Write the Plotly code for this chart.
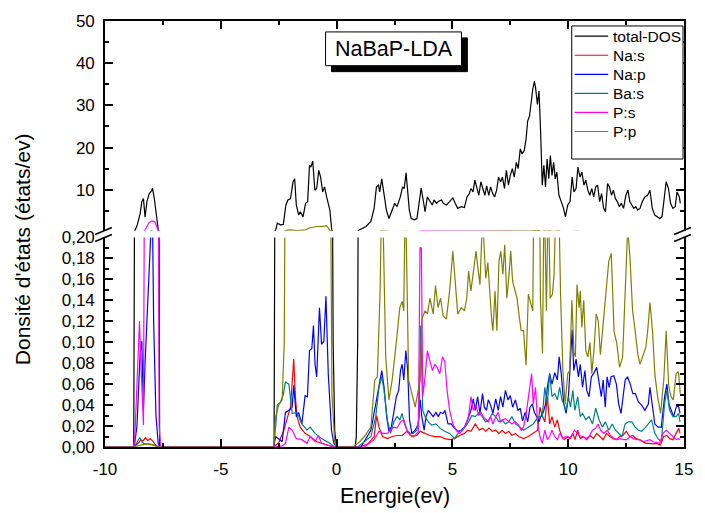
import plotly.graph_objects as go

# ---------------- data ----------------
E_total = [-10.0, -8.76, -8.70, -8.60, -8.48, -8.41, -8.34, -8.27, -8.19, -8.09, -7.99, -7.95, -7.87, -7.78, -7.70, -7.64,
           -2.70, -2.63, -2.56, -2.42, -2.30, -2.19, -2.10, -1.99, -1.88, -1.81, -1.74, -1.64, -1.57, -1.45, -1.34, -1.25,
           -1.17, -1.11, -1.03, -0.94, -0.86, -0.77, -0.69, -0.60, -0.52, -0.43, -0.35, -0.29, -0.21, -0.15, -0.08, 0.0,
           0.80, 0.85, 0.91, 0.96, 1.27, 1.48, 1.62, 1.72, 1.81, 1.86, 1.95, 2.05, 2.15, 2.26, 2.37, 2.51, 2.61, 2.75,
           2.85, 2.92, 3.00, 3.08, 3.14, 3.22, 3.36, 3.47, 3.56, 3.65, 3.75, 3.82, 3.92, 4.03, 4.13, 4.21, 4.31, 4.41,
           4.53, 4.61, 4.74, 4.88, 5.02, 5.12, 5.23, 5.38, 5.52, 5.63, 5.73, 5.80, 5.89, 5.97, 6.06, 6.14, 6.23, 6.31,
           6.40, 6.48, 6.57, 6.65, 6.74, 6.82, 6.91, 6.99, 7.08, 7.16, 7.25, 7.33, 7.42, 7.50, 7.59, 7.67, 7.76, 7.84,
           7.93, 8.01, 8.10, 8.18, 8.25, 8.33, 8.40, 8.47, 8.54, 8.59, 8.67, 8.74, 8.81, 8.88, 8.95, 9.02, 9.09, 9.16,
           9.23, 9.30, 9.37, 9.44, 9.51, 9.60, 9.70, 9.80, 9.88, 9.98, 10.08, 10.17, 10.25, 10.34, 10.42, 10.51, 10.59,
           10.68, 10.76, 10.85, 10.93, 11.02, 11.10, 11.19, 11.27, 11.36, 11.44, 11.53, 11.61, 11.70, 11.78, 11.87,
           11.95, 12.04, 12.12, 12.21, 12.29, 12.39, 12.49, 12.58, 12.66, 12.75, 12.83, 12.92, 13.00, 13.10, 13.20,
           13.31, 13.43, 13.53, 13.63, 13.74, 13.85, 13.95, 14.05, 14.14, 14.23, 14.33, 14.42, 14.52, 14.62, 14.70,
           14.80, 14.84]
dos_total = [0, 0, 0.4, 1.8, 4.4, 7.2, 7.9, 3.5, 7.2, 9.1, 9.7, 10.4, 7.9, 3.2, 0.5, 0,
             0, 0.5, 2.1, 1.7, 1.8, 6.4, 7.6, 7.9, 11.9, 12.6, 6.4, 4.0, 4.8, 3.6, 6.8, 7.2,
             15.8, 15.4, 16.8, 9.9, 10.3, 14.6, 13.0, 9.5, 10.7, 8.3, 6.0, 5.2, 0.4, 0.1, 0.015, 0,
             0, 0.01, 0.1, 0.4, 1.3, 2.5, 5.6, 10.7, 11.1, 9.5, 12.6, 9.1, 5.2, 3.2, 4.8, 6.8, 6.0, 8.3,
             10.7, 10.3, 14.0, 9.5, 5.2, 3.2, 2.9, 3.2, 7.2, 10.4, 7.2, 4.8, 8.3, 7.2, 6.4, 7.6, 6.8, 7.3,
             7.6, 6.8, 6.4, 7.2, 8.1, 6.8, 5.6, 6.0, 5.8, 8.3, 9.1, 10.3, 9.5, 12.3, 10.7, 8.7, 11.9, 10.3,
             8.7, 10.9, 8.7, 10.7, 9.1, 8.3, 9.9, 13.0, 11.9, 13.0, 10.3, 14.6, 11.1, 13.4, 15.0, 13.0, 16.5, 15.0,
             19.7, 18.5, 19.3, 22.0, 26.3, 27.5, 31.4, 33.8, 35.7, 34.2, 30.2, 33.4, 23.6, 11.1, 15.8, 10.7, 17.3, 12.6,
             18.1, 13.4, 16.5, 12.6, 14.2, 8.7, 7.2, 5.6, 3.6, 6.4, 7.2, 13.0, 9.5, 10.3, 15.4, 13.0, 14.2,
             11.1, 12.3, 9.9, 8.7, 10.3, 8.3, 10.7, 11.1, 7.2, 9.1, 5.6, 4.8, 11.5, 10.7, 8.7,
             9.9, 7.9, 7.2, 6.0, 6.8, 5.6, 8.7, 9.9, 7.2, 6.4, 5.6, 6.0, 5.2, 5.6, 7.2,
             8.3, 8.7, 9.9, 5.6, 4.0, 3.6, 3.2, 3.6, 7.9, 11.9, 10.3, 6.8, 5.6, 6.0, 9.5,
             8.3, 6.8]

E_nas = [-10.0, -8.75, -8.55, -8.45, -8.35, -8.25, -8.15, -8.05, -7.95, -7.85, -7.70,
         -2.72, -2.50, -2.28, -2.10, -1.99, -1.85, -1.78, -1.71, -1.57, -1.36, -1.14, -0.86, -0.57, -0.29, -0.10,
         1.00, 1.35, 1.62, 1.73, 1.83, 1.98, 2.19, 2.40, 2.61, 2.83, 3.04, 3.25, 3.46, 3.61, 3.82, 4.03, 4.24,
         4.46, 4.67, 4.88, 5.09, 5.31, 5.52, 5.66, 5.80, 5.99, 6.16, 6.30, 6.44, 6.58, 6.72, 6.87, 7.01, 7.15,
         7.29, 7.43, 7.57, 7.72, 7.86, 8.07, 8.28, 8.49, 8.68, 8.78, 8.88, 8.99, 9.10, 9.20, 9.30, 9.42, 9.53,
         9.63, 9.73, 9.84, 9.98, 10.10, 10.20, 10.29, 10.41, 10.52, 10.66, 10.80, 10.95, 11.09, 11.23, 11.37,
         11.51, 11.66, 11.80, 11.94, 12.08, 12.22, 12.36, 12.51, 12.65, 12.79, 12.93, 13.07, 13.21, 13.36,
         13.50, 13.64, 13.81, 13.98, 14.12, 14.26, 14.38, 14.52, 14.66, 14.77, 14.83]
dos_nas = [0, 0, 0.004, 0.007, 0.006, 0.009, 0.006, 0.008, 0.006, 0.003, 0,
           0, 0.004, 0.016, 0.030, 0.038, 0.084, 0.048, 0.029, 0.019, 0.013, 0.010, 0.005, 0.003, 0.001, 0,
           0, 0.003, 0.010, 0.030, 0.019, 0.010, 0.008, 0.010, 0.011, 0.011, 0.015, 0.010, 0.011, 0.015, 0.013, 0.011, 0.010,
           0.010, 0.008, 0.007, 0.008, 0.011, 0.013, 0.016, 0.015, 0.022, 0.016, 0.018, 0.015, 0.018, 0.015, 0.016, 0.013, 0.016,
           0.013, 0.015, 0.011, 0.013, 0.010, 0.008, 0.010, 0.013, 0.016, 0.038, 0.030, 0.024, 0.048, 0.022, 0.029, 0.019, 0.026,
           0.016, 0.010, 0.007, 0.010, 0.008, 0.013, 0.007, 0.016, 0.008, 0.010, 0.007, 0.011, 0.008, 0.013, 0.010,
           0.007, 0.013, 0.010, 0.008, 0.007, 0.010, 0.011, 0.015, 0.010, 0.011, 0.008, 0.007, 0.005, 0.0035,
           0.0035, 0.003, 0.0035, 0.002, 0.010, 0.011, 0.008, 0.007, 0.013, 0.018, 0.013]

E_nap = [-10.0, -8.80, -8.72, -8.62, -8.52, -8.48, -8.41, -8.34, -8.27, -8.15, -8.05, -8.00, -7.95, -7.90, -7.80, -7.70, -7.62,
         -2.72, -2.63, -2.49, -2.35, -2.21, -2.06, -1.92, -1.85, -1.74, -1.64, -1.50, -1.36, -1.26, -1.17, -1.07, -1.00,
         -0.93, -0.86, -0.74, -0.65, -0.55, -0.46, -0.36, -0.22, -0.12, 0.0,
         1.05, 1.48, 1.69, 1.83, 1.95, 2.05, 2.16, 2.26, 2.36, 2.47, 2.58, 2.68, 2.76, 2.83, 2.90, 2.99, 3.07, 3.15,
         3.25, 3.39, 3.53, 3.61, 3.68, 3.78, 3.86, 3.96, 4.06, 4.17, 4.29, 4.39, 4.48, 4.60, 4.68, 4.81, 4.95, 5.09,
         5.24, 5.38, 5.52, 5.66, 5.80, 5.90, 5.99, 6.09, 6.19, 6.30, 6.38, 6.47, 6.55, 6.65, 6.75, 6.87, 6.98, 7.08,
         7.18, 7.29, 7.40, 7.50, 7.60, 7.72, 7.83, 7.93, 8.03, 8.14, 8.25, 8.35, 8.45, 8.54, 8.64, 8.74, 8.82, 8.92,
         9.02, 9.10, 9.20, 9.30, 9.42, 9.53, 9.61, 9.70, 9.81, 9.91, 10.01, 10.10, 10.17, 10.24, 10.34, 10.44, 10.52,
         10.62, 10.72, 10.80, 10.90, 11.00, 11.12, 11.23, 11.33, 11.43, 11.51, 11.60, 11.68, 11.77, 11.85, 11.97,
         12.08, 12.18, 12.28, 12.36, 12.46, 12.56, 12.68, 12.79, 12.90, 13.03, 13.17, 13.31, 13.46, 13.53, 13.64,
         13.74, 13.88, 14.02, 14.16, 14.26, 14.35, 14.45, 14.55, 14.66, 14.75, 14.83]
dos_nap = [0, 0, 0.003, 0.02, 0.07, 0.090, 0.101, 0.035, 0.080, 0.142, 0.180, 0.215, 0.22, 0.12, 0.03, 0.003, 0,
           0, 0.010, 0.007, 0.005, 0.033, 0.035, 0.038, 0.059, 0.029, 0.033, 0.022, 0.049, 0.048, 0.092, 0.094, 0.116,
           0.079, 0.067, 0.133, 0.098, 0.101, 0.144, 0.070, 0.016, 0.0035, 0,
           0, 0.016, 0.041, 0.060, 0.073, 0.057, 0.029, 0.015, 0.019, 0.033, 0.048, 0.054, 0.073, 0.079, 0.064, 0.092, 0.073, 0.026,
           0.013, 0.016, 0.022, 0.045, 0.029, 0.016, 0.029, 0.035, 0.032, 0.029, 0.033, 0.029, 0.033, 0.032, 0.035, 0.022, 0.022, 0.018,
           0.015, 0.016, 0.019, 0.026, 0.035, 0.046, 0.035, 0.048, 0.032, 0.051, 0.038, 0.035, 0.045, 0.040, 0.032, 0.046, 0.035, 0.048,
           0.038, 0.054, 0.045, 0.049, 0.038, 0.045, 0.035, 0.037, 0.025, 0.033, 0.024, 0.038, 0.041, 0.033, 0.029, 0.024, 0.029, 0.033,
           0.041, 0.057, 0.070, 0.060, 0.071, 0.064, 0.086, 0.070, 0.041, 0.032, 0.048, 0.079, 0.112, 0.073, 0.084, 0.067, 0.079,
           0.057, 0.073, 0.054, 0.048, 0.067, 0.071, 0.076, 0.060, 0.048, 0.064, 0.038, 0.067, 0.057, 0.067, 0.068,
           0.060, 0.041, 0.032, 0.048, 0.064, 0.067, 0.060, 0.051, 0.051, 0.043, 0.040, 0.035, 0.041, 0.057, 0.041,
           0.022, 0.019, 0.019, 0.048, 0.060, 0.041, 0.035, 0.029, 0.038, 0.040, 0.032]

E_bas = [-10.0, -8.76, -8.65, -8.50, -8.40, -8.30, -8.10, -7.90, -7.70,
         -2.72, -2.63, -2.56, -2.42, -2.30, -2.21, -2.06, -1.92, -1.71, -1.50, -1.28, -1.14, -0.93, -0.65, -0.29, -0.10,
         0.91, 1.48, 1.69, 1.83, 1.95, 2.05, 2.19, 2.33, 2.47, 2.61, 2.73, 2.83, 2.93, 3.04, 3.18, 3.32, 3.46, 3.56,
         3.63, 3.72, 3.82, 3.96, 4.10, 4.29, 4.46, 4.67, 4.88, 5.09, 5.31, 5.52, 5.70, 5.84, 5.99, 6.16, 6.30, 6.44,
         6.58, 6.72, 6.87, 7.01, 7.15, 7.29, 7.43, 7.57, 7.72, 7.86, 8.07, 8.28, 8.49, 8.71, 8.88, 8.99, 9.10, 9.20,
         9.30, 9.42, 9.53, 9.63, 9.73, 9.81, 9.91, 10.01, 10.10, 10.20, 10.29, 10.41, 10.52, 10.62, 10.76, 10.90,
         11.05, 11.19, 11.33, 11.47, 11.61, 11.75, 11.90, 12.04, 12.18, 12.32, 12.46, 12.60, 12.75, 12.89, 13.03,
         13.17, 13.31, 13.46, 13.60, 13.74, 13.88, 14.02, 14.16, 14.26, 14.38, 14.52, 14.66, 14.77, 14.83]
dos_bas = [0, 0, 0.003, 0.009, 0.005, 0.003, 0.003, 0.002, 0,
           0, 0.02, 0.040, 0.043, 0.050, 0.062, 0.060, 0.032, 0.033, 0.022, 0.016, 0.019, 0.013, 0.008, 0.0035, 0,
           0, 0.010, 0.029, 0.057, 0.067, 0.054, 0.026, 0.013, 0.024, 0.029, 0.026, 0.032, 0.022, 0.016, 0.013, 0.013, 0.016, 0.029,
           0.116, 0.035, 0.029, 0.024, 0.021, 0.022, 0.018, 0.015, 0.013, 0.008, 0.015, 0.018, 0.024, 0.030, 0.029, 0.033, 0.029, 0.024,
           0.026, 0.032, 0.029, 0.024, 0.026, 0.022, 0.024, 0.029, 0.022, 0.020, 0.016, 0.019, 0.022, 0.029, 0.029, 0.057, 0.041, 0.070,
           0.048, 0.051, 0.045, 0.057, 0.045, 0.041, 0.035, 0.048, 0.038, 0.054, 0.035, 0.048, 0.029, 0.032, 0.026, 0.029,
           0.022, 0.037, 0.026, 0.019, 0.024, 0.016, 0.022, 0.016, 0.013, 0.010, 0.022, 0.024, 0.024, 0.019, 0.016,
           0.015, 0.018, 0.022, 0.026, 0.013, 0.008, 0.005, 0.041, 0.054, 0.035, 0.029, 0.029, 0.032, 0.024]

E_ps = [-10.0, -8.78, -8.72, -8.62, -8.51, -8.45, -8.38, -8.34, -8.29, -8.20, -8.10, -7.97, -7.85, -7.75, -7.70, -7.66, -7.60,
        -2.70, -2.35, -2.21, -2.06, -1.92, -1.74, -1.50, -1.28, -1.14, -0.93, -0.79, -0.65, -0.40, -0.15,
        1.20, 1.62, 1.83, 1.98, 2.19, 2.33, 2.47, 2.61, 2.76, 2.90, 3.04, 3.18, 3.39, 3.53, 3.60, 3.66, 3.72, 3.82,
        3.92, 4.03, 4.14, 4.24, 4.34, 4.46, 4.57, 4.67, 4.77, 4.88, 5.02, 5.16, 5.31, 5.45, 5.59, 5.70, 5.80, 5.90,
        6.02, 6.13, 6.23, 6.33, 6.44, 6.55, 6.65, 6.75, 6.87, 6.98, 7.08, 7.18, 7.29, 7.43, 7.57, 7.72, 7.86, 7.97,
        8.07, 8.17, 8.28, 8.37, 8.42, 8.49, 8.59, 8.68, 8.78, 8.88, 8.99, 9.10, 9.20, 9.30, 9.42, 9.53, 9.64, 9.77,
        9.91, 10.05, 10.15, 10.27, 10.38, 10.48, 10.62, 10.76, 10.90, 11.05, 11.19, 11.29, 11.40, 11.54, 11.68,
        11.83, 11.97, 12.11, 12.25, 12.39, 12.53, 12.68, 12.82, 12.96, 13.10, 13.24, 13.38, 13.53, 13.67, 13.81,
        13.95, 14.09, 14.23, 14.38, 14.52, 14.66, 14.77, 14.83]
dos_ps = [0, 0, 0.005, 0.06, 0.12, 0.08, 0.03, 0.021, 0.3, 1.2, 2.2, 2.6, 2.4, 1.0, 0.3, 0.02, 0,
          0, 0.001, 0.0035, 0.019, 0.016, 0.008, 0.007, 0.0035, 0.010, 0.005, 0.011, 0.0035, 0.002, 0,
          0, 0.007, 0.015, 0.013, 0.013, 0.016, 0.019, 0.018, 0.024, 0.026, 0.016, 0.011, 0.011, 0.015, 0.19, 0.19, 0.048, 0.067,
          0.092, 0.082, 0.073, 0.079, 0.076, 0.070, 0.086, 0.082, 0.054, 0.035, 0.022, 0.016, 0.013, 0.016, 0.022, 0.030, 0.048, 0.035,
          0.040, 0.030, 0.033, 0.029, 0.026, 0.024, 0.029, 0.022, 0.029, 0.033, 0.024, 0.026, 0.027, 0.024, 0.022, 0.024, 0.021, 0.016,
          0.019, 0.029, 0.048, 0.064, 0.070, 0.041, 0.057, 0.022, 0.010, 0.0035, 0.016, 0.007, 0.010, 0.016, 0.010, 0.007, 0.013, 0.008,
          0.010, 0.008, 0.011, 0.016, 0.013, 0.011, 0.010, 0.008, 0.010, 0.016, 0.018, 0.022, 0.016, 0.013, 0.016,
          0.011, 0.008, 0.007, 0.008, 0.007, 0.007, 0.010, 0.008, 0.007, 0.007, 0.005, 0.006, 0.007, 0.005, 0.004,
          0.0035, 0.013, 0.016, 0.013, 0.010, 0.007, 0.008, 0.007]

E_pp = [-10.0, -8.76, -8.60, -8.40, -8.20, -7.95, -7.70,
        -2.72, -2.62, -2.50, -2.35, -2.26, -2.19, -2.00, -1.70, -1.35, -1.15, -0.85, -0.60, -0.45, -0.35, -0.29, -0.20, -0.08, 0.0,
        0.70, 0.95, 1.20, 1.48, 1.65, 1.76, 1.88, 1.95, 2.02, 2.12, 2.26, 2.40, 2.54, 2.73, 2.83, 2.90, 2.97, 3.04,
        3.11, 3.25, 3.39, 3.61, 3.68, 3.82, 3.92, 4.03, 4.17, 4.27, 4.38, 4.49, 4.60, 4.74, 4.88, 5.02, 5.14, 5.23,
        5.38, 5.52, 5.62, 5.70, 5.80, 5.90, 6.02, 6.10, 6.19, 6.30, 6.38, 6.44, 6.53, 6.60, 6.70, 6.75, 6.84, 6.92,
        7.01, 7.09, 7.18, 7.26, 7.35, 7.43, 7.52, 7.60, 7.70, 7.79, 7.89, 7.97, 8.07, 8.18, 8.28, 8.38, 8.47, 8.52,
        8.62, 8.72, 8.80, 8.89, 8.96, 9.06, 9.14, 9.22, 9.32, 9.39, 9.49, 9.58, 9.67, 9.77, 9.87, 9.98, 10.06,
        10.16, 10.25, 10.31, 10.38, 10.47, 10.52, 10.59, 10.67, 10.76, 10.85, 10.94, 11.02, 11.12, 11.21, 11.30,
        11.39, 11.51, 11.61, 11.68, 11.75, 11.86, 11.98, 12.09, 12.22, 12.35, 12.46, 12.57, 12.67, 12.78, 12.89,
        13.01, 13.10, 13.24, 13.35, 13.43, 13.53, 13.64, 13.74, 13.86, 13.99, 14.13, 14.23, 14.34, 14.44, 14.54,
        14.66, 14.76, 14.84]
dos_pp = [0, 0, 0.001, 0.002, 0.003, 0.002, 0,
          0, 0.03, 0.04, 0.045, 0.1, 0.4, 0.5, 0.35, 0.5, 1.0, 1.3, 1.3, 1.5, 0.9, 0.35, 0.05, 0.004, 0,
          0, 0.004, 0.010, 0.019, 0.064, 0.067, 0.15, 0.25, 0.2, 0.086, 0.045, 0.064, 0.092, 0.133, 0.139, 0.130, 0.25, 0.15,
          0.064, 0.051, 0.038, 0.064, 0.122, 0.130, 0.127, 0.142, 0.127, 0.154, 0.133, 0.142, 0.125, 0.122, 0.149, 0.187, 0.155, 0.127,
          0.133, 0.130, 0.142, 0.168, 0.149, 0.165, 0.187, 0.171, 0.155, 0.22, 0.184, 0.161, 0.176, 0.15, 0.120, 0.111, 0.149, 0.111,
          0.177, 0.187, 0.165, 0.193, 0.142, 0.161, 0.187, 0.158, 0.150, 0.142, 0.124, 0.111, 0.111, 0.078, 0.146, 0.136, 0.130, 0.25,
          0.3, 0.4, 0.142, 0.089, 0.25, 0.130, 0.25, 0.142, 0.146, 0.165, 0.25, 0.25, 0.146, 0.073, 0.041, 0.070, 0.073,
          0.140, 0.090, 0.086, 0.155, 0.133, 0.149, 0.114, 0.140, 0.092, 0.086, 0.100, 0.070, 0.095, 0.127, 0.120,
          0.088, 0.117, 0.142, 0.165, 0.177, 0.185, 0.110, 0.100, 0.076, 0.086, 0.145, 0.21, 0.180, 0.130, 0.111,
          0.088, 0.079, 0.089, 0.095, 0.110, 0.138, 0.111, 0.070, 0.048, 0.032, 0.065, 0.111, 0.058, 0.048, 0.045,
          0.070, 0.072, 0.051]

series_names = ["total-DOS", "Na:s", "Na:p", "Ba:s", "P:s", "P:p"]
series_colors = ["#000000", "#FF0000", "#0000FF", "#008080", "#FF00FF", "#808000"]
series_data = [(E_total, dos_total), (E_nas, dos_nas), (E_nap, dos_nap),
               (E_bas, dos_bas), (E_ps, dos_ps), (E_pp, dos_pp)]

x_ticks = [-10, -5, 0, 5, 10, 15]
x_tick_labels = ["-10", "-5", "0", "5", "10", "15"]
upper_ticks = [10, 20, 30, 40, 50]

# ---------------- figure ----------------
W, H = 705, 513
L, R, T, B = 105, 12, 18, 66
PW, PH = W - L - R, H - T - B


def px(x, y):
    return (x - L) / PW, (H - B - y) / PH


fig = go.Figure()
for name, color, (ex, ey) in zip(series_names, series_colors, series_data):
    for xa, ya in (("x", "y"), ("x2", "y2")):
        fig.add_trace(go.Scatter(x=ex, y=ey, mode="lines", name=name, showlegend=False,
                                 line=dict(color=color, width=1.2), xaxis=xa, yaxis=ya))

lower_top = (H - B - 236) / PH
upper_bot = (H - B - 229.2) / PH

axis_common = dict(showline=True, linecolor="black", linewidth=1.6, ticks="inside",
                   ticklen=8, tickwidth=1.5, tickcolor="black", showgrid=False,
                   zeroline=False, tickfont=dict(size=17, color="black"))

fig.update_layout(
    width=W, height=H, autosize=False,
    margin=dict(l=L, r=R, t=T, b=B),
    paper_bgcolor="white", plot_bgcolor="white",
    font=dict(family="Arial, Liberation Sans, sans-serif", color="black"),
    separators=", ",
    showlegend=False,
    xaxis=dict(domain=[0, 1], range=[-10, 15], anchor="y", tickvals=x_ticks, ticktext=x_tick_labels,
               minor=dict(ticks="inside", ticklen=4, tickwidth=1.5, dtick=2.5, tick0=0, tickcolor="black"),
               ticklabelstandoff=6, **axis_common),
    xaxis2=dict(domain=[0, 1], range=[-10, 15], anchor="y2", matches="x", side="top",
                tickvals=x_ticks, showticklabels=False,
                minor=dict(ticks="inside", ticklen=4, tickwidth=1.5, dtick=2.5, tick0=0, tickcolor="black"),
                **axis_common),
    yaxis=dict(domain=[0, lower_top], range=[0, 0.2], anchor="x", dtick=0.02, tick0=0,
               tickformat=".2f", mirror="ticks", ticklabelstandoff=5,
               minor=dict(ticks="inside", ticklen=4, tickwidth=1.5, dtick=0.01, tick0=0, tickcolor="black"),
               **axis_common),
    yaxis2=dict(domain=[upper_bot, 1], range=[0.3, 50], anchor="x2", tickvals=upper_ticks,
                mirror="ticks", ticklabelstandoff=5,
                minor=dict(ticks="inside", ticklen=4, tickwidth=1.5, dtick=5, tick0=0, tickcolor="black"),
                **axis_common),
)

shapes = []
ann = []
# break marks
for x0 in (95, 683):
    for (ya, yb) in ((233, 226), (240, 233)):
        a = px(x0, ya)
        b = px(x0 + 17, yb)
        shapes.append(dict(type="line", xref="paper", yref="paper", x0=a[0], y0=a[1], x1=b[0], y1=b[1],
                           line=dict(color="black", width=1.5)))
# title box with shadow
s0, s1 = px(335, 35), px(473, 69)
shapes.append(dict(type="rect", xref="paper", yref="paper", x0=s0[0], y0=s1[1], x1=s1[0], y1=s0[1],
                   fillcolor="black", line=dict(color="black", width=1)))
b0, b1 = px(329, 29), px(467, 63)
shapes.append(dict(type="rect", xref="paper", yref="paper", x0=b0[0], y0=b1[1], x1=b1[0], y1=b0[1],
                   fillcolor="white", line=dict(color="black", width=1)))

# legend box (drawn by hand to match the Origin-style legend)
l0, l1 = px(579, 23), px(692, 157)
shapes.append(dict(type="rect", xref="paper", yref="paper", x0=l0[0], y0=l1[1], x1=l1[0], y1=l0[1],
                   fillcolor="white", line=dict(color="black", width=1)))
for i, (name, color) in enumerate(zip(series_names, series_colors)):
    yrow = 33.3 + i * 19.2
    a = px(582, yrow)
    b = px(616, yrow)
    shapes.append(dict(type="line", xref="paper", yref="paper", x0=a[0], y0=a[1], x1=b[0], y1=b[1],
                       line=dict(color=color, width=1.2)))
    t = px(619, yrow)
    ann.append(dict(text=name, x=t[0], y=t[1], xref="paper", yref="paper", showarrow=False,
                    xanchor="left", yanchor="middle", font=dict(size=15.5, color="black")))
fig.update_layout(shapes=shapes)

cx, cy = px(398, 46)
ann.append(dict(text="NaBaP-LDA", x=cx, y=cy, xref="paper", yref="paper", showarrow=False,
                xanchor="center", yanchor="middle", font=dict(size=21.5, color="black")))
tx, ty = px(399, 496)
ann.append(dict(text="Energie(ev)", x=tx, y=ty, xref="paper", yref="paper", showarrow=False,
                xanchor="center", yanchor="middle", font=dict(size=21.3, color="black")))
yx, yy = px(22, 247.5)
ann.append(dict(text="Donsité d'états (états/ev)", x=yx, y=yy, xref="paper", yref="paper", showarrow=False,
                xanchor="center", yanchor="middle", textangle=-90, font=dict(size=21, color="black")))
fig.update_layout(annotations=ann)

fig.write_html("out.html")
